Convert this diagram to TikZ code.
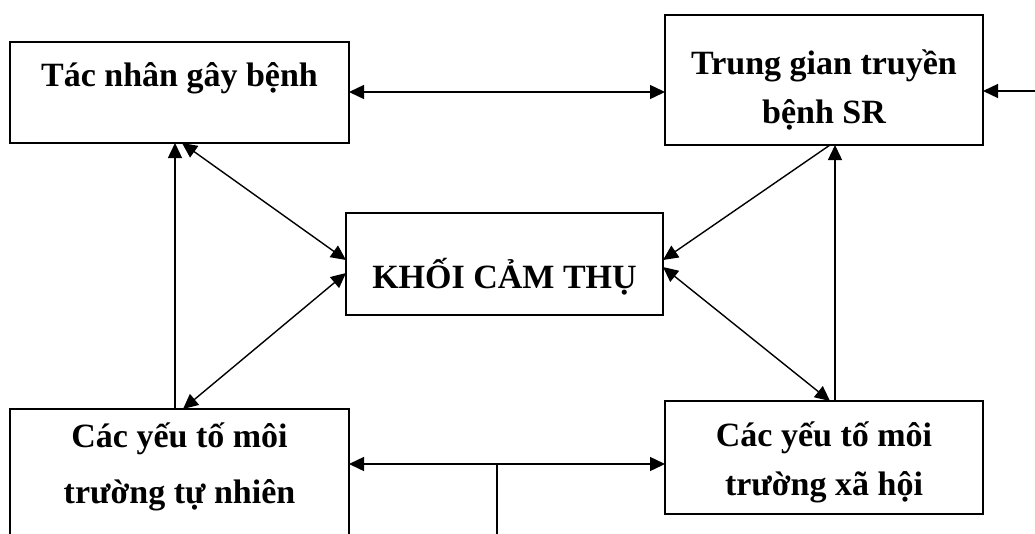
\documentclass[tikz,border=0pt]{standalone}
\usepackage{fontspec}
\setmainfont{Liberation Serif}
\usetikzlibrary{arrows.meta}
\begin{document}
\begin{tikzpicture}[x=1pt,y=1pt,
  box/.style={draw, line width=1.5pt, inner sep=0pt, outer sep=0pt, anchor=north west},
  lbl/.style={font=\fontsize{34}{40}\selectfont\bfseries, anchor=base, inner sep=0pt},
  conn/.style={line width=1.4pt, >={Triangle[length=15pt,width=14pt]}}]
\useasboundingbox (0,0) rectangle (1035,-533);
\clip (0,0) rectangle (1035,-533);
% boxes
\node[box, minimum width=339, minimum height=101] (A) at (10,-42) {};
\node[box, minimum width=318, minimum height=130] (B) at (665,-15) {};
\node[box, minimum width=317, minimum height=102] (C) at (346,-213) {};
\node[box, minimum width=339, minimum height=160] (D) at (10,-409) {};
\node[box, minimum width=318, minimum height=113] (E) at (665,-401) {};
% texts
\node[lbl] (tA) at (179.5,-86) {Tác nhân gây bệnh};
\node[lbl] (tB1) at (824,-74) {Trung gian truyền};
\node[lbl] (tB2) at (824,-123) {bệnh SR};
\node[lbl] (tC) at (504.5,-288) {KHỐI CẢM THỤ};
\node[lbl] (tD1) at (179.5,-447) {Các yếu tố môi};
\node[lbl] (tD2) at (179.5,-503) {trường tự nhiên};
\node[lbl] (tE1) at (824,-446) {Các yếu tố môi};
\node[lbl] (tE2) at (824,-495) {trường xã hội};
% helper coordinates
\coordinate (T) at (0,-92);
\coordinate (R) at (1045,-91);
\coordinate (J) at (497,-464);
\coordinate (Jb) at (497,-545);
% connectors
\draw[conn,<->] (T -| A.east) -- (T -| B.west);
\draw[conn,->] (R) -- (R -| B.east);
\draw[conn,<->] ([xshift=172]A.south west) -- ([yshift=4]C.west);
\draw[conn,<->] ([xshift=173]D.north west) -- ([yshift=-9]C.west);
\draw[conn,->] ([xshift=165]D.north west) -- ([xshift=165]A.south west);
\draw[conn,->] ([xshift=165]B.south west) -- ([yshift=4]C.east);
\draw[conn,<->] ([yshift=-3]C.east) -- ([xshift=165]E.north west);
\draw[conn,->] ([xshift=170]E.north west) -- ([xshift=170]B.south west);
\draw[conn,<->] (J -| D.east) -- (J -| E.west);
\draw[conn] (J) -- (Jb);
\end{tikzpicture}
\end{document}
